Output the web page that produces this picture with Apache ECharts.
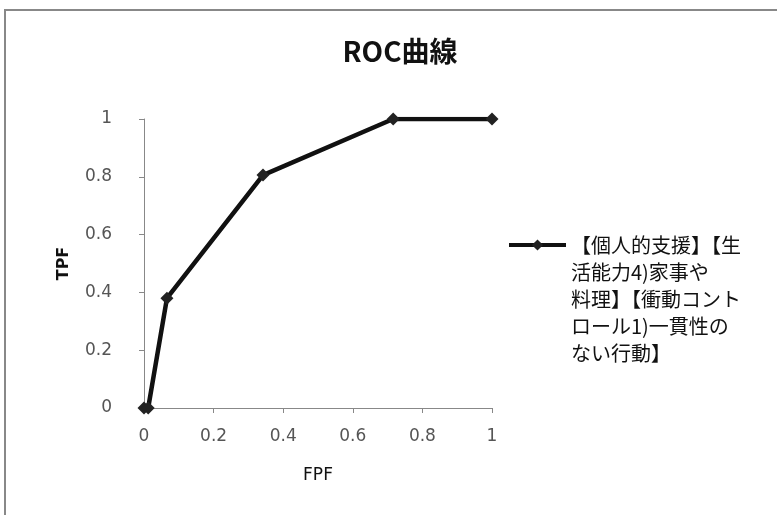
<!DOCTYPE html>
<html><head><meta charset="utf-8">
<script src="https://cdn.jsdelivr.net/npm/echarts@6/dist/echarts.min.js"></script>
<style>html,body{margin:0;padding:0;background:#fff}#c{width:777px;height:515px}</style>
</head><body><div id="c"></div>
<script>
const titleText = 'ROC曲線';
const seriesName = '【個人的支援】【生活能力4)家事や料理】【衝動コントロール1)一貫性のない行動】';
const legendLines = ['【個人的支援】【生', '活能力4)家事や', '料理】【衝動コント', 'ロール1)一貫性の', 'ない行動】'];
const fpf = [0, 0.012, 0.066, 0.342, 0.716, 1];
const tpf = [0, 0, 0.38, 0.806, 1, 1];
const xName = 'FPF', yName = 'TPF';

const chart = echarts.init(document.getElementById('c'));
const cjk = '"Noto Sans CJK JP", "Noto Sans", sans-serif';
const numFont = '"DejaVu Sans", sans-serif';
const fmt = v => String(+v.toFixed(1));
chart.setOption({
  backgroundColor: '#fff',
  animation: false,
  title: {text: titleText, left: 395, top: 32, textAlign: 'center',
    textStyle: {fontFamily: cjk, fontSize: 28, fontWeight: 'bold', color: '#111'}},
  grid: {left: 144, right: 285, top: 119, bottom: 107},
  legend: {
    data: [seriesName], left: 502, top: 240 - 4.5 * 27, itemWidth: 57, itemHeight: 14, itemGap: 0,
    formatter: () => '\n\n\n\n' + legendLines.join('\n'),
    lineStyle: {width: 4, color: '#111'},
    textStyle: {fontFamily: cjk, fontSize: 20, color: '#111', lineHeight: 27}
  },
  xAxis: {type: 'value', min: 0, max: 1, interval: 0.2,
    name: xName, nameLocation: 'middle', nameGap: 59,
    nameTextStyle: {fontFamily: numFont, fontSize: 17, color: '#111'},
    axisLine: {lineStyle: {color: '#888', width: 1}},
    axisTick: {show: true, length: 5, lineStyle: {color: '#888'}},
    splitLine: {show: false},
    axisLabel: {margin: 20, fontFamily: numFont, fontSize: 17, color: '#555', formatter: fmt}
  },
  yAxis: {type: 'value', min: 0, max: 1, interval: 0.2,
    name: yName, nameLocation: 'middle', nameGap: 72, nameRotate: 90,
    nameTextStyle: {fontFamily: numFont, fontSize: 16, color: '#111', fontWeight: 'bold'},
    axisLine: {show: true, lineStyle: {color: '#888', width: 1}},
    axisTick: {show: true, length: 5, lineStyle: {color: '#888'}},
    splitLine: {show: false},
    axisLabel: {margin: 32, fontFamily: numFont, fontSize: 17, color: '#555', formatter: fmt}
  },
  series: [{
    name: seriesName, type: 'line',
    data: fpf.map((x, i) => [x, tpf[i]]),
    symbol: 'diamond', symbolSize: 13,
    lineStyle: {color: '#111', width: 4.5},
    itemStyle: {color: '#222'}
  }],
  graphic: [
    {type: 'polyline', shape: {points: [[5, 515], [5, 10], [777, 10]]},
      style: {stroke: '#888', lineWidth: 2, fill: null}}
  ]
});
</script></body></html>
